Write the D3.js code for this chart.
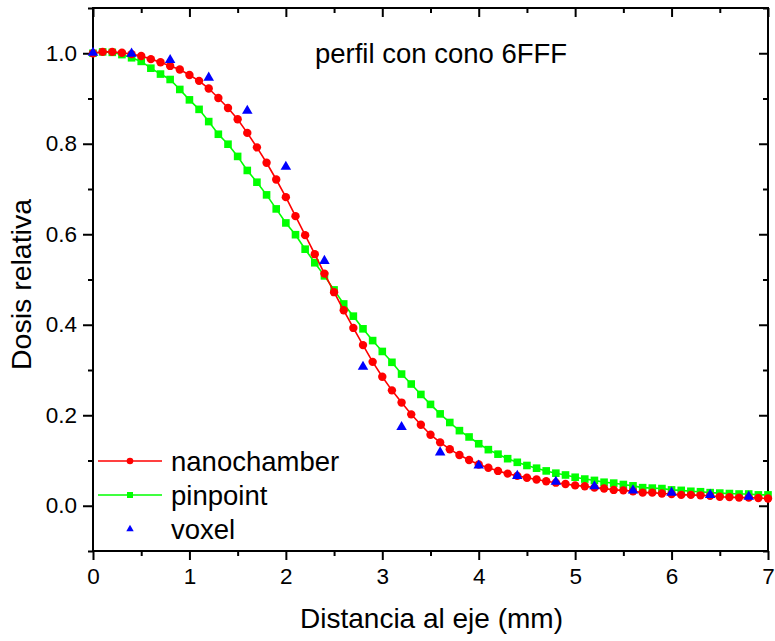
<!DOCTYPE html>
<html>
<head>
<meta charset="utf-8">
<script src="https://cdn.jsdelivr.net/npm/d3@7"></script>
<style>
  body { margin: 0; background: #fff; }
  text { font-family: Arial, "Liberation Sans", sans-serif; fill: #000; }
</style>
</head>
<body>
<div class="canvas"></div>
<script>
const dims = { width: 775, height: 641 };
const plot = { left: 93, right: 768, top: 8, bottom: 551 };

// distance from the axis (mm)
const distances = [
  0.0, 0.1, 0.2, 0.3, 0.4, 0.5, 0.6, 0.7, 0.8, 0.9,
  1.0, 1.1, 1.2, 1.3, 1.4, 1.5, 1.6, 1.7, 1.8, 1.9,
  2.0, 2.1, 2.2, 2.3, 2.4, 2.5, 2.6, 2.7, 2.8, 2.9,
  3.0, 3.1, 3.2, 3.3, 3.4, 3.5, 3.6, 3.7, 3.8, 3.9,
  4.0, 4.1, 4.2, 4.3, 4.4, 4.5, 4.6, 4.7, 4.8, 4.9,
  5.0, 5.1, 5.2, 5.3, 5.4, 5.5, 5.6, 5.7, 5.8, 5.9,
  6.0, 6.1, 6.2, 6.3, 6.4, 6.5, 6.6, 6.7, 6.8, 6.9,
  7.0
];

const nanochamber = [
  1.000, 1.003, 1.003, 1.001, 0.998, 0.994, 0.987, 0.980, 0.972, 0.964,
  0.952, 0.939, 0.922, 0.901, 0.879, 0.854, 0.824, 0.792, 0.758, 0.721,
  0.682, 0.640, 0.598, 0.556, 0.513, 0.472, 0.432, 0.393, 0.355, 0.318,
  0.285, 0.255, 0.228, 0.202, 0.179, 0.157, 0.140, 0.125, 0.112, 0.101,
  0.091, 0.084, 0.077, 0.071, 0.066, 0.062, 0.058, 0.054, 0.051, 0.048,
  0.045, 0.043, 0.040, 0.038, 0.035, 0.034, 0.032, 0.029, 0.029, 0.027,
  0.026, 0.024, 0.024, 0.023, 0.022, 0.020, 0.019, 0.018, 0.018, 0.017,
  0.016
];

const pinpoint = [
  1.000, 1.003, 1.002, 0.997, 0.990, 0.982, 0.967, 0.954, 0.942, 0.920,
  0.897, 0.876, 0.849, 0.821, 0.799, 0.772, 0.741, 0.715, 0.687, 0.656,
  0.625, 0.599, 0.567, 0.537, 0.508, 0.477, 0.446, 0.419, 0.391, 0.365,
  0.341, 0.317, 0.291, 0.269, 0.246, 0.224, 0.203, 0.184, 0.166, 0.152,
  0.137, 0.124, 0.114, 0.104, 0.096, 0.089, 0.083, 0.077, 0.072, 0.068,
  0.063, 0.059, 0.056, 0.052, 0.050, 0.047, 0.044, 0.040, 0.039, 0.038,
  0.035, 0.034, 0.032, 0.031, 0.029, 0.028, 0.027, 0.026, 0.026, 0.024,
  0.024
];

const voxelDistances = [0.0, 0.4, 0.8, 1.2, 1.6, 2.0, 2.4, 2.8, 3.2, 3.6, 4.0, 4.4, 4.8, 5.2, 5.6, 6.0, 6.4, 6.8];
const voxel = [1.001, 0.999, 0.985, 0.946, 0.873, 0.749, 0.541, 0.307, 0.174, 0.118, 0.089, 0.066, 0.053, 0.043, 0.034, 0.029, 0.024, 0.020];

const xTicks = [0, 1, 2, 3, 4, 5, 6, 7];
const xMinorTicks = [0.5, 1.5, 2.5, 3.5, 4.5, 5.5, 6.5];
const yTicks = [0.0, 0.2, 0.4, 0.6, 0.8, 1.0];
const yMinorTicks = [-0.1, 0.1, 0.3, 0.5, 0.7, 0.9, 1.1];

const svg = d3.select('.canvas')
    .append('svg')
    .attr('width', dims.width)
    .attr('height', dims.height);

const x = d3.scaleLinear().domain([0, 7]).range([plot.left, plot.right]);
const y = d3.scaleLinear().domain([-0.1, 1.1]).range([plot.bottom, plot.top]);

// axes: bottom/left ticks outward, top/right ticks inward
const axisStyle = (g) => {
    g.select('.domain').remove();
    g.selectAll('line').attr('stroke', '#000').attr('stroke-width', 2);
    g.selectAll('text').style('font-size', '22.5px');
};

svg.append('g')
    .attr('transform', `translate(0, ${plot.bottom})`)
    .call(d3.axisBottom(x).tickValues(xTicks).tickFormat(d3.format('d')).tickSize(9).tickPadding(8))
    .call(axisStyle);
svg.append('g')
    .attr('transform', `translate(0, ${plot.bottom})`)
    .call(d3.axisBottom(x).tickValues(xMinorTicks).tickFormat('').tickSize(5))
    .call(axisStyle);

svg.append('g')
    .attr('transform', `translate(0, ${plot.top})`)
    .call(d3.axisBottom(x).tickValues(xTicks).tickFormat('').tickSize(9))
    .call(axisStyle);
svg.append('g')
    .attr('transform', `translate(0, ${plot.top})`)
    .call(d3.axisBottom(x).tickValues(xMinorTicks).tickFormat('').tickSize(5))
    .call(axisStyle);

svg.append('g')
    .attr('transform', `translate(${plot.left}, 0)`)
    .call(d3.axisLeft(y).tickValues(yTicks).tickFormat(d3.format('.1f')).tickSize(10).tickPadding(6))
    .call(axisStyle);
svg.append('g')
    .attr('transform', `translate(${plot.left}, 0)`)
    .call(d3.axisLeft(y).tickValues(yMinorTicks).tickFormat('').tickSize(5))
    .call(axisStyle);

svg.append('g')
    .attr('transform', `translate(${plot.right}, 0)`)
    .call(d3.axisLeft(y).tickValues(yTicks).tickFormat('').tickSize(9))
    .call(axisStyle);
svg.append('g')
    .attr('transform', `translate(${plot.right}, 0)`)
    .call(d3.axisLeft(y).tickValues(yMinorTicks).tickFormat('').tickSize(5))
    .call(axisStyle);

// frame
svg.append('rect')
    .attr('x', plot.left)
    .attr('y', plot.top)
    .attr('width', plot.right - plot.left)
    .attr('height', plot.bottom - plot.top)
    .attr('fill', 'none')
    .attr('stroke', '#000')
    .attr('stroke-width', 2);

// series
const line = d3.line()
    .x(d => x(d[0]))
    .y(d => y(d[1]));

const nanoData = distances.map((d, i) => [d, nanochamber[i]]);
const pinData = distances.map((d, i) => [d, pinpoint[i]]);
const voxelData = voxelDistances.map((d, i) => [d, voxel[i]]);

const graph = svg.append('g');

graph.append('path')
    .datum(pinData)
    .attr('d', line)
    .attr('fill', 'none')
    .attr('stroke', '#00ff00')
    .attr('stroke-width', 1.6);

graph.selectAll('rect.pin')
    .data(pinData)
    .enter()
    .append('rect')
    .attr('class', 'pin')
    .attr('x', d => x(d[0]) - 3.8)
    .attr('y', d => y(d[1]) - 3.8)
    .attr('width', 7.6)
    .attr('height', 7.6)
    .attr('fill', '#00ff00');

graph.append('path')
    .datum(nanoData)
    .attr('d', line)
    .attr('fill', 'none')
    .attr('stroke', '#ff0000')
    .attr('stroke-width', 1.6);

graph.selectAll('circle.nano')
    .data(nanoData)
    .enter()
    .append('circle')
    .attr('class', 'nano')
    .attr('cx', d => x(d[0]))
    .attr('cy', d => y(d[1]))
    .attr('r', 4.2)
    .attr('fill', '#ff0000');

const triangle = d3.symbol().type(d3.symbolTriangle).size(48);

graph.selectAll('path.voxel')
    .data(voxelData)
    .enter()
    .append('path')
    .attr('class', 'voxel')
    .attr('d', triangle)
    .attr('transform', d => `translate(${x(d[0])}, ${y(d[1])})`)
    .attr('fill', '#0000ff');

// legend
const legendItems = [
    { name: 'nanochamber', color: '#ff0000', kind: 'circle' },
    { name: 'pinpoint', color: '#00ff00', kind: 'square' },
    { name: 'voxel', color: '#0000ff', kind: 'triangle' }
];

const legendGroup = svg.append('g').attr('transform', 'translate(98, 461)');

legendItems.forEach((item, i) => {
    const row = legendGroup.append('g').attr('transform', `translate(0, ${i * 34})`);
    if (item.kind !== 'triangle') {
        row.append('line')
            .attr('x1', 0).attr('x2', 64)
            .attr('stroke', item.color)
            .attr('stroke-width', 1.6);
    }
    if (item.kind === 'circle') {
        row.append('circle').attr('cx', 32).attr('r', 3.3).attr('fill', item.color);
    } else if (item.kind === 'square') {
        row.append('rect').attr('x', 29).attr('y', -3).attr('width', 6).attr('height', 6).attr('fill', item.color);
    } else {
        row.append('path')
            .attr('d', d3.symbol().type(d3.symbolTriangle).size(24))
            .attr('transform', 'translate(32, 0)')
            .attr('fill', item.color);
    }
    row.append('text')
        .attr('x', 73)
        .attr('y', 9.5)
        .style('font-size', '27.5px')
        .text(item.name);
});

// titles
svg.append('text')
    .attr('x', 441)
    .attr('y', 63)
    .attr('text-anchor', 'middle')
    .style('font-size', '27.5px')
    .text('perfil con cono 6FFF');

svg.append('text')
    .attr('x', (plot.left + plot.right) / 2 + 1)
    .attr('y', 628)
    .attr('text-anchor', 'middle')
    .style('font-size', '28px')
    .text('Distancia al eje (mm)');

svg.append('text')
    .attr('transform', `translate(31, ${(plot.top + plot.bottom) / 2 + 5}) rotate(-90)`)
    .attr('text-anchor', 'middle')
    .style('font-size', '28.5px')
    .text('Dosis relativa');
</script>
</body>
</html>
